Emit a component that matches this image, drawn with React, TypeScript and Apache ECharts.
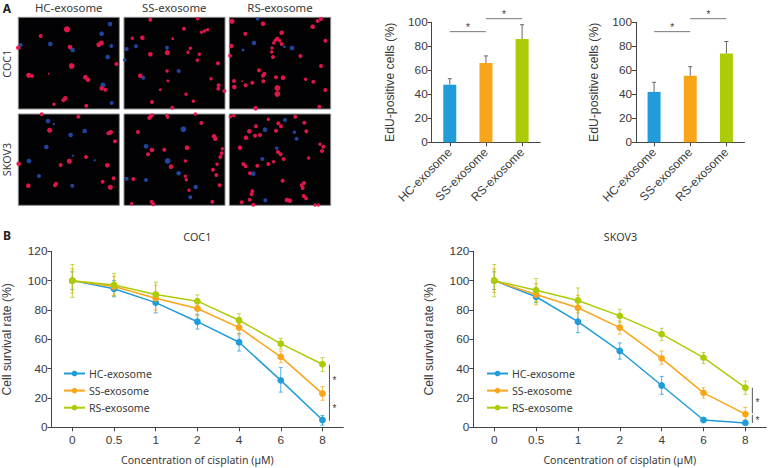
import React, { useEffect, useRef } from "react";
import * as echarts from "echarts";

const FONT = "Liberation Sans";
const TEXT = "#3a3a3a";
const BLUE = "#1f9cd9";
const ORANGE = "#f9a51a";
const GREEN = "#aecb08";
const RED_CELL = "#e8174e";
const BLUE_CELL = "#2249a8";

const groups = ["HC-exosome", "SS-exosome", "RS-exosome"];
const doses = ["0", "0.5", "1", "2", "4", "6", "8"];

// EdU bars
const eduCoc1 = [48, 66, 86];
const eduCoc1Hi = [53, 72, 98];
const eduSkov3 = [42, 55.5, 74];
const eduSkov3Hi = [50, 63, 84];

// Survival curves COC1
const cocHC = [100, 94.5, 85, 72, 58, 32, 5];
const cocHCHi = [106, 100, 92, 77, 64, 40.7, 8];
const cocHCLo = [94, 89, 78, 67, 52, 24, 1.5];
const cocSS = [100, 96, 88, 81, 68, 48, 23];
const cocSSHi = [108, 103, 97, 84, 71, 52, 27.7];
const cocSSLo = [91.5, 90, 80, 76, 63, 44, 18.4];
const cocRS = [100, 97, 90.5, 86, 73, 57, 43];
const cocRSHi = [111, 105, 99, 90.3, 77.5, 60.7, 47.5];
const cocRSLo = [88.6, 89.5, 87, 82, 68.6, 53.4, 38];

// Survival curves SKOV3
const skoHC = [100, 89, 72, 52, 28.5, 5, 3];
const skoHCHi = [106, 93, 80, 57.5, 34.7, 6, 4];
const skoHCLo = [94, 85, 64.5, 46.5, 22.5, 4, 2];
const skoSS = [100, 90.5, 81.5, 68, 47, 23.5, 9];
const skoSSHi = [108, 98, 90, 72.5, 52, 27, 13.5];
const skoSSLo = [92, 83.5, 73, 63.5, 43, 20, 5];
const skoRS = [100, 93.5, 86.5, 76, 63.5, 47.5, 27];
const skoRSHi = [111, 101.5, 95, 80.5, 67.5, 51, 31.5];
const skoRSLo = [89, 85.5, 78, 71.5, 59, 43.5, 22.5];

// Significance brackets: [fromCategory, toCategory, level]
const eduBrackets = [[0, 1, 92.2], [1, 2, 103]];
// Significance bars at the 8 µM dose: [from, to]
const cocSig = [[42.7, 23], [22.7, 4.5]];
const skoSig = [[27, 9.5], [8.4, 3]];

// Micrograph fields: cell positions [x, y, size]
const p1Red = [[201,88,5.5],[122,108,3.5],[210,141,4],[304,129,4.5],[296,134,4],[349,192,3.5],[215,198,5],[86,226,4.5],[96,228,3.5],[146,221,1.5],[256,232,4],[264,239,4],[305,265,4],[316,269,3.5],[196,295,4],[190,301,3.5],[162,313,3],[259,317,3.5],[55,143,4]];
const p1Blue = [[330,72,4],[305,101,4],[151,132,4],[62,135,3.5],[218,150,4],[334,138,3.5],[323,171,4],[309,255,4.5],[335,309,3.5]];
const p2Red = [[451,59,3.5],[593,56,3],[552,86,3.5],[397,115,3],[427,113,4],[518,116,2.5],[605,97,3],[614,93,3],[623,89,3],[451,163,4],[502,158,4.5],[571,145,3],[564,157,3],[598,163,3],[592,181,3],[654,190,3.5],[501,213,3],[421,227,4],[504,243,2.5],[633,236,3],[656,256,3.5],[655,266,3.5],[673,273,3.5],[481,269,2.5],[558,283,3],[456,306,3.5],[580,304,3],[517,323,3.5]];
const p2Blue = [[380,147,3.5],[408,139,3.5],[501,143,3.5],[374,180,3],[536,213,3.5],[430,233,3.5]];
const p3Red = [[696,64,4.5],[789,71,4],[963,57,3.5],[953,63,3.5],[938,80,4],[736,101,3.5],[845,98,4],[976,122,3.5],[694,138,4],[832,117,4],[825,122,3],[839,122,3],[845,132,3.5],[821,129,3],[816,144,3],[815,156,3],[819,171,3.5],[690,167,3.5],[901,168,3.5],[963,198,3.5],[777,211,3.5],[793,221,3.5],[789,227,3.5],[828,232,3.5],[849,233,4],[702,243,3.5],[703,261,4],[737,256,3.5],[757,248,3.5],[790,244,3.5],[917,238,3],[940,245,3.5],[832,264,5],[832,282,5],[976,270,3.5],[958,320,3.5],[767,325,4],[726,244,1.5]];
const p3Blue = [[773,57,3],[762,129,4],[729,150,2.5],[853,140,2.5],[876,144,4]];
const p4Red = [[125,343,3.5],[235,350,3.5],[149,391,4.5],[332,397,4],[325,400,3.5],[345,424,3.5],[56,491,4],[208,484,4.5],[182,495,3.5],[258,471,3.5],[322,496,4],[85,557,4],[168,551,3.5],[165,556,3.5],[308,545,3.5],[341,535,3.5],[331,562,4.5]];
const p4Blue = [[144,363,4],[161,372,2],[212,405,4],[254,393,4],[139,441,4],[219,467,2],[87,483,4],[284,481,2],[117,528,3.5],[217,557,3.5]];
const p5Red = [[451,350,3.5],[456,346,3.5],[448,354,3.5],[500,346,3],[503,352,3],[586,342,3],[604,369,3.5],[414,396,3.5],[642,409,4],[646,416,4],[456,450,4],[444,463,3.5],[493,449,3.5],[561,443,4],[667,446,3],[665,460,3.5],[661,471,3.5],[556,483,3],[513,500,4],[651,493,3],[639,509,3.5],[649,525,3.5],[556,529,3],[559,539,3],[400,537,3.5],[659,556,3.5],[567,571,3],[395,611,3],[455,605,3.5],[460,613,3.5],[637,605,3.5]];
const p5Blue = [[550,388,5],[438,439,4],[503,483,5],[536,520,4],[380,536,3.5],[438,540,3.5],[587,561,4],[571,592,3.5]];
const p6Red = [[691,350,3],[701,347,3],[805,358,3],[886,350,3.5],[913,368,3.5],[835,370,3.5],[843,379,3.5],[768,379,3.5],[748,394,4],[828,392,3.5],[919,394,3.5],[738,413,4],[765,407,3.5],[780,405,3.5],[720,443,4],[960,433,3],[970,440,3.5],[966,453,3.5],[834,456,3.5],[842,463,3.5],[851,477,3.5],[926,474,3],[730,492,3.5],[737,499,3.5],[772,497,3.5],[805,492,3.5],[821,485,3],[750,520,3.5],[848,542,3.5],[912,549,3.5],[905,556,3.5],[908,564,3.5],[757,574,3.5],[755,583,3.5],[749,599,3.5],[725,607,3.5],[911,588,3.5],[918,595,3.5],[861,600,4],[870,602,4],[760,614,3.5],[945,615,3],[955,615,3]];
const p6Blue = [[855,360,3.5],[795,389,4],[883,397,3],[890,416,3.5],[830,445,3],[787,477,3.5],[760,521,4],[796,601,3.5]];

const fields = [
  { red: p1Red, blue: p1Blue, x0: 55, y0: 52, w: 303, h: 275 },
  { red: p2Red, blue: p2Blue, x0: 372, y0: 52, w: 303, h: 275 },
  { red: p3Red, blue: p3Blue, x0: 688, y0: 52, w: 304, h: 275 },
  { red: p4Red, blue: p4Blue, x0: 55, y0: 342, w: 303, h: 274 },
  { red: p5Red, blue: p5Blue, x0: 372, y0: 342, w: 303, h: 274 },
  { red: p6Red, blue: p6Blue, x0: 688, y0: 342, w: 304, h: 274 },
];

function buildOption() {
  const grid: any[] = [];
  const xAxis: any[] = [];
  const yAxis: any[] = [];
  const series: any[] = [];

  fields.forEach((f, i) => {
    grid.push({
      left: f.x0 / 3, top: f.y0 / 3, width: f.w / 3, height: f.h / 3, show: true,
      backgroundColor: "#020204", borderColor: "#8a8a8a", borderWidth: 1,
    });
    xAxis.push({ type: "value", gridIndex: i, show: false, min: f.x0, max: f.x0 + f.w, splitLine: { show: false } });
    yAxis.push({ type: "value", gridIndex: i, show: false, inverse: true, min: f.y0, max: f.y0 + f.h, splitLine: { show: false } });
    [[f.blue, BLUE_CELL], [f.red, RED_CELL]].forEach(([pts, color]: any) => {
      series.push({
        type: "scatter", xAxisIndex: i, yAxisIndex: i, data: pts, clip: true,
        symbolSize: (v: number[]) => v[2] * 1.15, itemStyle: { color, opacity: 0.95 }, silent: true,
      });
    });
  });

  const valueAxisStyle = {
    axisLine: { show: true, lineStyle: { color: "#444", width: 1 } },
    axisTick: { show: true, length: 4, lineStyle: { color: "#444", width: 1 } },
    axisLabel: { color: TEXT, fontFamily: FONT, fontSize: 11.8, margin: 4 },
    splitLine: { show: false },
  };

  const addBars = (idx: number, left: number, vals: number[], hi: number[]) => {
    grid.push({ left, top: 22.3, width: 108.5, height: 120 });
    xAxis.push({
      type: "category", gridIndex: idx, data: groups, ...valueAxisStyle,
      axisTick: { show: true, length: 4, alignWithLabel: true, lineStyle: { color: "#444" } },
      axisLabel: { color: TEXT, fontFamily: FONT, fontSize: 12, rotate: 45, interval: 0, margin: 8 },
    });
    yAxis.push({
      type: "value", gridIndex: idx, min: 0, max: 100, interval: 20, ...valueAxisStyle,
      name: "EdU-positive cells (%)", nameLocation: "middle", nameGap: 36, nameRotate: 90,
      nameTextStyle: { color: TEXT, fontFamily: FONT, fontSize: 12.2 },
    });
    series.push({
      type: "bar", xAxisIndex: idx, yAxisIndex: idx, barWidth: 13,
      data: vals.map((v, i) => ({ value: v, itemStyle: { color: [BLUE, ORANGE, GREEN][i] } })),
    });
    series.push({
      type: "custom", xAxisIndex: idx, yAxisIndex: idx, z: 1, clip: false,
      data: vals.map((v, i) => [i, v, hi[i]]),
      renderItem: (_p: any, api: any) => {
        const a = api.coord([api.value(0), api.value(1)]);
        const b = api.coord([api.value(0), api.value(2)]);
        const style = { stroke: "#666", lineWidth: 1, fill: "none" };
        return {
          type: "group",
          children: [
            { type: "line", shape: { x1: a[0], y1: a[1], x2: b[0], y2: b[1] }, style },
            { type: "line", shape: { x1: a[0] - 2, y1: b[1], x2: a[0] + 2, y2: b[1] }, style },
          ],
        };
      },
    });
    series.push({
      type: "custom", xAxisIndex: idx, yAxisIndex: idx, clip: false,
      data: eduBrackets,
      renderItem: (_p: any, api: any) => {
        const a = api.coord([api.value(0), api.value(2)]);
        const b = api.coord([api.value(1), api.value(2)]);
        return {
          type: "group",
          children: [
            { type: "line", shape: { x1: a[0], y1: a[1], x2: b[0], y2: b[1] }, style: { stroke: "#777", lineWidth: 1, fill: "none" } },
            { type: "text", style: { x: (a[0] + b[0]) / 2, y: a[1] + 1, text: "*", fill: TEXT, fontSize: 10, fontFamily: FONT, align: "center", verticalAlign: "bottom" } },
          ],
        };
      },
    });
  };
  addBars(6, 431.7, eduCoc1, eduCoc1Hi);
  addBars(7, 636, eduSkov3, eduSkov3Hi);

  const addLines = (idx: number, left: number, curves: any[], sig: number[][]) => {
    grid.push({ left, top: 251.3, width: 293, height: 176 });
    xAxis.push({
      type: "category", gridIndex: idx, data: doses, ...valueAxisStyle,
      axisTick: { show: true, length: 4, alignWithLabel: true, lineStyle: { color: "#444" } },
      axisLabel: { color: TEXT, fontFamily: FONT, fontSize: 11.8, interval: 0, margin: 7 },
      name: "Concentration of cisplatin (µM)", nameLocation: "middle", nameGap: 27,
      nameTextStyle: { color: TEXT, fontFamily: "Noto Sans", fontSize: 10.6 },
    });
    yAxis.push({
      type: "value", gridIndex: idx, min: 0, max: 120, interval: 20, ...valueAxisStyle,
      name: "Cell survival rate (%)", nameLocation: "middle", nameGap: 38.5, nameRotate: 90,
      nameTextStyle: { color: TEXT, fontFamily: FONT, fontSize: 12.2 },
    });
    curves.forEach((c) => {
      series.push({
        type: "custom", xAxisIndex: idx, yAxisIndex: idx, z: 2, clip: false,
        data: c.hi.map((h: number, i: number) => [i, h, c.lo[i]]),
        renderItem: (_p: any, api: any) => {
          const a = api.coord([api.value(0), api.value(1)]);
          const b = api.coord([api.value(0), api.value(2)]);
          const style = { stroke: c.color, lineWidth: 1, fill: "none", opacity: 0.75 };
          return {
            type: "group",
            children: [
              { type: "line", shape: { x1: a[0], y1: a[1], x2: b[0], y2: b[1] }, style },
              { type: "line", shape: { x1: a[0] - 2, y1: a[1], x2: a[0] + 2, y2: a[1] }, style },
              { type: "line", shape: { x1: a[0] - 2, y1: b[1], x2: a[0] + 2, y2: b[1] }, style },
            ],
          };
        },
      });
    });
    curves.forEach((c) => {
      series.push({
        type: "line", name: c.name, xAxisIndex: idx, yAxisIndex: idx, z: 3, data: c.v,
        symbol: "circle", symbolSize: 6.8, showSymbol: true,
        lineStyle: { color: c.color, width: 1.5 }, itemStyle: { color: c.color },
      });
    });
    series.push({
      type: "custom", xAxisIndex: idx, yAxisIndex: idx, clip: false, z: 3,
      data: sig.map((s) => [6, s[0], s[1]]),
      renderItem: (_p: any, api: any) => {
        const a = api.coord([api.value(0), api.value(1)]);
        const b = api.coord([api.value(0), api.value(2)]);
        const x = a[0] + 7;
        return {
          type: "group",
          children: [
            { type: "line", shape: { x1: x, y1: a[1], x2: x, y2: b[1] }, style: { stroke: "#555", lineWidth: 1, fill: "none" } },
            { type: "text", style: { x: x + 5, y: (a[1] + b[1]) / 2 + 1.5, text: "*", fill: TEXT, fontSize: 10, fontFamily: FONT, align: "center", verticalAlign: "middle" } },
          ],
        };
      },
    });
  };
  addLines(8, 50.3, [
    { name: groups[0], v: cocHC, hi: cocHCHi, lo: cocHCLo, color: BLUE },
    { name: groups[1], v: cocSS, hi: cocSSHi, lo: cocSSLo, color: ORANGE },
    { name: groups[2], v: cocRS, hi: cocRSHi, lo: cocRSLo, color: GREEN },
  ], cocSig);
  addLines(9, 473.3, [
    { name: groups[0], v: skoHC, hi: skoHCHi, lo: skoHCLo, color: BLUE },
    { name: groups[1], v: skoSS, hi: skoSSHi, lo: skoSSLo, color: ORANGE },
    { name: groups[2], v: skoRS, hi: skoRSHi, lo: skoRSLo, color: GREEN },
  ], skoSig);

  const legendCommon = {
    orient: "vertical", data: groups, top: 368, itemWidth: 21, itemHeight: 7, itemGap: 6.1,
    textStyle: { color: TEXT, fontFamily: "Noto Sans", fontSize: 10.6, padding: [0, 0, 0, -1] },
    selectedMode: false, padding: 0,
  };

  const label = (text: string, x: number, y: number, extra: any = {}) => ({
    type: "text", x, y,
    style: { text, fill: TEXT, fontFamily: "Noto Sans", fontSize: 11.4, align: "center", verticalAlign: "middle", ...extra },
  });
  const rotated = (text: string, x: number, y: number) => ({
    ...label(text, 0, 0, { fontSize: 10.8 }), x, y, rotation: Math.PI / 2,
  });

  return {
    animation: false,
    backgroundColor: "#fff",
    grid, xAxis, yAxis, series,
    legend: [
      { ...legendCommon, left: 63 },
      { ...legendCommon, left: 486 },
    ],
    graphic: [
      label("A", 7, 8, { fontWeight: "bold", fontSize: 12, fill: "#222" }),
      label("B", 7, 235, { fontWeight: "bold", fontSize: 12, fill: "#222" }),
      label(groups[0], 68.7, 7),
      label(groups[1], 174.3, 7),
      label(groups[2], 280, 7),
      rotated("COC1", 6, 63.7),
      rotated("SKOV3", 6, 159.5),
      label("COC1", 197.3, 236, { fontSize: 10.8 }),
      label("SKOV3", 620.5, 236, { fontSize: 10.8 }),
    ],
  };
}

export default function App() {
  const ref = useRef<HTMLDivElement>(null);
  useEffect(() => {
    document.body.style.margin = "0";
    const chart = echarts.init(ref.current!, undefined, { renderer: "svg" });
    chart.setOption(buildOption() as any);
    return () => chart.dispose();
  }, []);
  return <div ref={ref} style={{ width: 769, height: 468 }} />;
}
